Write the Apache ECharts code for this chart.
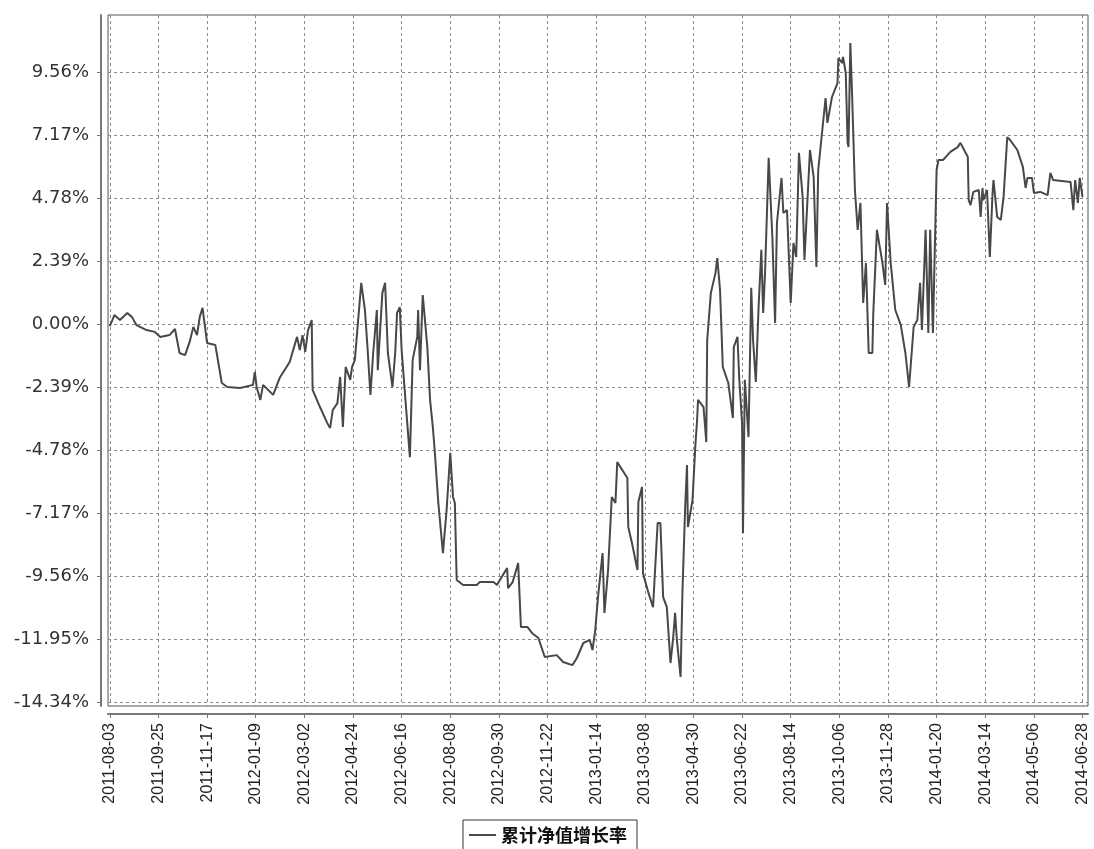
<!DOCTYPE html>
<html>
<head>
<meta charset="utf-8">
<script src="https://cdn.jsdelivr.net/npm/echarts@6/dist/echarts.min.js"></script>
<style>
html,body{margin:0;padding:0;background:#fff;}
#chart{width:1094px;height:849px;}
</style>
</head>
<body>
<div id="chart"></div>
<script>
// Tick labels of the date axis (every 53 days from the start date)
const tickDates = ['2011-08-03','2011-09-25','2011-11-17','2012-01-09','2012-03-02','2012-04-24','2012-06-16','2012-08-08','2012-09-30','2012-11-22','2013-01-14','2013-03-08','2013-04-30','2013-06-22','2013-08-14','2013-10-06','2013-11-28','2014-01-20','2014-03-14','2014-05-06','2014-06-28'];
const tickStepDays = 53;
// y tick values (%)
const yTickValues = [-14.34,-11.95,-9.56,-7.17,-4.78,-2.39,0,2.39,4.78,7.17,9.56];
// Series: days since 2011-08-03, and cumulative NAV growth (%)
const dayOffsets = [0,5,11,19,24,29,40,49,55,65,71,76,82,87,91,95,98,101,106,115,122,128,142,156,158,160,164,167,178,185,196,204,207,210,213,216,220,221,229,237,240,243,248,251,254,257,262,264,267,274,278,281,284,287,291,292,297,300,303,308,311,313,316,318,323,327,330,335,336,338,341,346,349,352,354,358,363,367,371,374,376,378,385,400,403,418,422,425,433,434,439,445,448,455,460,467,474,487,494,504,509,516,523,526,529,532,537,539,543,547,551,553,564,565,569,575,576,580,581,587,592,597,600,603,607,611,614,616,618,622,624,627,629,630,635,638,640,641,647,650,651,655,660,662,665,668,674,679,680,684,686,689,690,692,696,698,699,701,704,707,710,712,714,718,722,725,727,732,734,738,742,745,748,751,755,757,763,767,770,772,780,782,787,793,794,798,799,802,804,805,807,809,812,815,818,820,821,824,827,831,832,836,842,845,847,851,856,862,867,871,876,880,883,885,889,892,894,897,901,903,908,916,924,927,932,935,936,938,941,947,949,951,952,956,959,962,963,967,971,974,978,981,989,995,998,1000,1005,1007,1014,1022,1025,1028,1047,1050,1052,1055,1057,1060];
const growthValues = [-0.08,0.34,0.15,0.42,0.27,-0.04,-0.23,-0.30,-0.49,-0.42,-0.19,-1.10,-1.18,-0.68,-0.11,-0.42,0.27,0.61,-0.72,-0.80,-2.24,-2.39,-2.43,-2.31,-1.82,-2.39,-2.88,-2.31,-2.69,-2.05,-1.44,-0.49,-0.99,-0.42,-1.06,-0.23,0.15,-2.50,-3.15,-3.76,-3.95,-3.26,-3.00,-2.01,-3.91,-1.63,-2.12,-1.63,-1.37,1.56,0.53,-0.99,-2.69,-1.10,0.53,-1.75,1.18,1.56,-1.10,-2.39,-1.10,0.42,0.64,-0.99,-3.26,-5.05,-1.37,-0.49,0.53,-1.75,1.10,-0.87,-2.88,-3.91,-4.78,-6.79,-8.69,-7.06,-4.89,-6.56,-6.79,-9.71,-9.90,-9.90,-9.79,-9.79,-9.90,-9.71,-9.26,-10.02,-9.79,-9.07,-11.49,-11.49,-11.72,-11.91,-12.63,-12.56,-12.82,-12.94,-12.67,-12.10,-11.99,-12.37,-11.61,-10.36,-8.69,-10.96,-9.33,-6.56,-6.79,-5.24,-5.84,-7.70,-8.31,-9.33,-6.75,-6.18,-9.45,-10.20,-10.74,-7.55,-7.55,-10.36,-10.74,-12.86,-11.87,-10.96,-11.99,-13.39,-10.20,-6.94,-5.35,-7.70,-6.68,-4.67,-3.64,-2.88,-3.15,-4.48,-0.61,1.18,1.93,2.50,1.29,-1.63,-2.24,-3.57,-0.87,-0.49,-2.12,-3.76,-7.93,-2.12,-4.29,-0.61,1.37,-0.61,-2.20,0.64,2.81,0.42,1.90,6.30,3.30,0.04,3.83,5.54,4.21,4.32,0.80,3.07,2.54,6.49,4.82,2.43,6.60,5.58,2.16,5.84,8.57,7.63,8.61,9.14,10.09,9.90,10.13,9.52,6.87,6.71,10.66,8.61,5.08,3.57,4.59,2.05,0.80,2.31,-1.10,-1.10,0.42,3.57,2.31,1.48,4.59,2.31,0.53,-0.04,-1.10,-2.39,-0.11,0.15,1.56,-0.23,3.57,-0.34,3.57,-0.34,5.84,6.22,6.22,6.53,6.71,6.87,6.53,6.34,4.70,4.51,5.01,5.08,4.06,5.16,4.70,5.08,2.54,4.97,5.46,4.06,3.95,4.82,7.09,6.98,6.60,5.96,5.16,5.54,5.54,4.97,5.01,4.89,5.73,5.46,5.39,4.32,5.46,4.59,5.54,4.82];
const seriesName = '累计净值增长率';

const xTickValues = tickDates.map((d, i) => i * tickStepDays);
const seriesData = dayOffsets.map((d, i) => [d, growthValues[i]]);

const chart = echarts.init(document.getElementById('chart'), null, {renderer: 'canvas'});
const gridLine = {show: true, lineStyle: {color: '#8a8a8a', width: 1, type: [3, 3]}};
chart.setOption({
  backgroundColor: '#ffffff',
  animation: false,
  grid: {left: 108, top: 15, right: 6, bottom: 143, show: true, borderColor: '#555', borderWidth: 1, backgroundColor: '#fff'},
  legend: {
    data: [seriesName], left: 463, top: 820,
    padding: [6, 10, 12, 6], borderColor: '#333', borderWidth: 1,
    icon: 'rect', itemWidth: 27, itemHeight: 2, itemGap: 5,
    textStyle: {fontFamily: 'Noto Sans CJK SC', fontSize: 18, fontWeight: 'bold', color: '#111'}
  },
  xAxis: {
    type: 'value', min: -2, max: 1066, offset: 8,
    axisLine: {show: true, onZero: false, lineStyle: {color: '#777', width: 2}},
    axisTick: {show: true, length: 4, customValues: xTickValues, lineStyle: {color: '#777'}},
    axisLabel: {
      customValues: xTickValues, rotate: 90, margin: 9,
      fontFamily: 'Liberation Sans', fontSize: 16, color: '#222',
      formatter: v => tickDates[Math.round(v / tickStepDays)]
    },
    splitLine: gridLine
  },
  yAxis: {
    type: 'value', min: -14.49, max: 11.72, offset: 7,
    axisLine: {show: true, onZero: false, lineStyle: {color: '#777', width: 2}},
    axisTick: {show: true, length: 4, customValues: yTickValues, lineStyle: {color: '#777'}},
    axisLabel: {
      customValues: yTickValues, margin: 12,
      fontFamily: 'DejaVu Sans', fontSize: 18, color: '#333',
      formatter: v => v.toFixed(2) + '%'
    },
    splitLine: gridLine
  },
  series: [{
    name: seriesName, type: 'line', data: seriesData,
    showSymbol: false, symbol: 'none',
    lineStyle: {color: '#484848', width: 2},
    itemStyle: {color: '#484848'}
  }]
});
</script>
</body>
</html>
